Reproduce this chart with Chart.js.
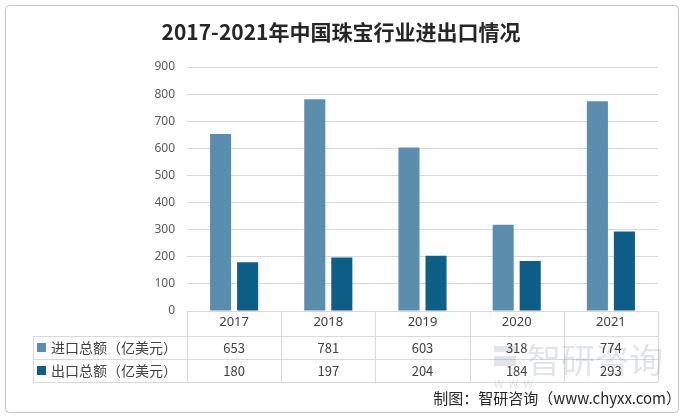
<!DOCTYPE html>
<html>
<head>
<meta charset="utf-8">
<script src="https://cdn.jsdelivr.net/npm/chart.js"></script>
<style>
  body { margin: 0; background: #fff; }
  #wrap { width: 685px; height: 419px; }
</style>
</head>
<body>
<div id="wrap"><canvas id="chartTrade" width="685" height="419"></canvas></div>
<script>
// data
const years = ["2017", "2018", "2019", "2020", "2021"];
const importVals = [653, 781, 603, 318, 774];
const exportVals = [180, 197, 204, 184, 293];
const seriesNames = ["进口总额（亿美元）", "出口总额（亿美元）"];
const yTicks = [0, 100, 200, 300, 400, 500, 600, 700, 800, 900];

const colImport = "#5B8EAE";
const colExport = "#0D5F87";
const lineCol = "#D9D9D9";
const cnFont = "'Noto Sans CJK SC', 'Noto Sans', sans-serif";

// title, frame, data table, source note
const tablePlugin = {
  id: "tablePlugin",
  afterDraw(chart) {
    const c = chart.ctx;
    const x = chart.scales.x;
    const n = years.length;
    const step = (x.right - x.left) / n;
    const tTop = x.top, r1 = tTop + 25, r2 = r1 + 23, r3 = r2 + 23;
    const labelLeft = 33;
    c.save();

    // outer frame
    c.strokeStyle = "#C4C4C4";
    c.lineWidth = 1;
    c.beginPath();
    c.roundRect(5.5, 5.5, 673, 407, 4);
    c.stroke();

    // title
    c.fillStyle = "#262626";
    c.font = "bold 21px " + cnFont;
    c.textAlign = "center";
    c.textBaseline = "middle";
    c.fillText("2017-2021年中国珠宝行业进出口情况", 341, 32);

    // table lines
    c.strokeStyle = lineCol;
    c.beginPath();
    c.moveTo(x.left, tTop + 0.5); c.lineTo(x.right, tTop + 0.5);
    [r1, r2, r3].forEach(yy => { c.moveTo(labelLeft, yy + 0.5); c.lineTo(x.right, yy + 0.5); });
    for (let i = 0; i <= n; i++) {
      const xx = Math.round(x.left + i * step) + 0.5;
      c.moveTo(xx, tTop); c.lineTo(xx, r3);
    }
    c.moveTo(labelLeft + 0.5, r1); c.lineTo(labelLeft + 0.5, r3);
    c.stroke();

    // watermark
    c.fillStyle = "rgba(120,135,150,0.22)";
    c.font = "34px " + cnFont;
    c.textAlign = "left";
    c.fillText("智研咨询", 527, 360);
    c.fillRect(494, 346, 22, 6);
    c.fillRect(494, 356, 22, 10);
    c.font = "11px " + cnFont;
    c.fillText("W  W  W", 494, 384);

    // series rows
    const rows = [[importVals, colImport, r1], [exportVals, colExport, r2]];
    rows.forEach((row, k) => {
      const cy = row[2] + 12;
      c.fillStyle = row[1];
      c.fillRect(37, cy - 5, 9, 9);
      c.fillStyle = "#404040";
      c.font = "14px " + cnFont;
      c.textAlign = "left";
      c.fillText(seriesNames[k], 51, cy);
      c.font = "13px " + cnFont;
      c.textAlign = "center";
      row[0].forEach((v, i) => c.fillText(String(v), x.getPixelForValue(i), cy));
    });

    // source note
    c.fillStyle = "#262626";
    c.font = "15px " + cnFont;
    c.textAlign = "right";
    c.fillText("制图：智研咨询（www.chyxx.com）", 681, 398);
    c.restore();
  }
};

const ctx = document.getElementById("chartTrade").getContext("2d");
const myChart = new Chart(ctx, {
  type: "bar",
  data: {
    labels: years,
    datasets: [
      { label: seriesNames[0], data: importVals, backgroundColor: colImport, borderWidth: 0 },
      { label: seriesNames[1], data: exportVals, backgroundColor: colExport, borderWidth: 0 }
    ]
  },
  options: {
    responsive: false,
    animation: false,
    categoryPercentage: 0.574,
    barPercentage: 0.78,
    layout: { padding: { top: 67, left: 0, right: 27, bottom: 83 } },
    plugins: {
      legend: { display: false },
      title: { display: false },
      tooltip: { enabled: false }
    },
    scales: {
      x: {
        grid: { display: false, drawTicks: false, tickLength: 0 },
        border: { display: false },
        ticks: { color: "#404040", font: { size: 13, family: "'Noto Sans', sans-serif" }, padding: 3 },
        afterFit(scale) { scale.height = 25; }
      },
      y: {
        min: 0,
        max: 900,
        afterBuildTicks(scale) { scale.ticks = yTicks.map(v => ({ value: v })); },
        grid: { color: lineCol, drawTicks: false },
        border: { display: false },
        ticks: { color: "#595959", font: { size: 12, family: "'Noto Sans', sans-serif" }, padding: 12 },
        afterFit(scale) { scale.width = 187; }
      }
    }
  },
  plugins: [tablePlugin]
});
</script>
</body>
</html>
